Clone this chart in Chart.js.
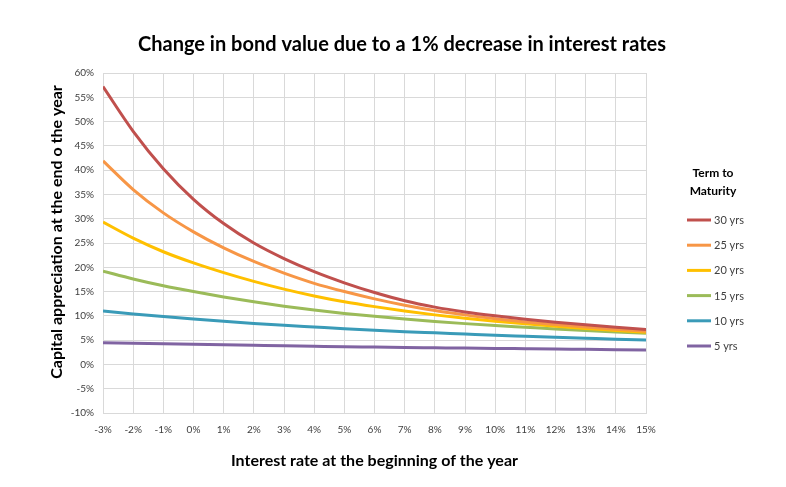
<!DOCTYPE html>
<html>
<head>
<meta charset="utf-8">
<script src="https://cdn.jsdelivr.net/npm/chart.js@4.4.1/dist/chart.umd.min.js"></script>
<style>
  body { margin: 0; background: #fff; }
  #wrap { width: 786px; height: 487px; }
</style>
</head>
<body>
<div id="wrap"><canvas id="bondChart" width="786" height="487"></canvas></div>
<script>
// interest rate at the beginning of the year (%)
const rates = [-3, -2, -1, 0, 1, 2, 3, 4, 5, 6, 7, 8, 9, 10, 11, 12, 13, 14, 15];

// capital appreciation (%) per term to maturity
const yrs30 = [57.2, 48.0, 40.3, 34.0, 29.0, 25.0, 21.8, 19.1, 16.8, 14.8, 13.1, 11.8, 10.8, 10.0, 9.3, 8.7, 8.15, 7.65, 7.2];
const yrs25 = [41.9, 36.0, 31.2, 27.3, 24.0, 21.2, 18.8, 16.7, 15.0, 13.5, 12.2, 11.1, 10.2, 9.4, 8.75, 8.2, 7.7, 7.25, 6.85];
const yrs20 = [29.3, 26.0, 23.2, 20.9, 18.9, 17.1, 15.5, 14.1, 12.9, 11.9, 11.0, 10.2, 9.5, 8.9, 8.35, 7.85, 7.4, 7.0, 6.6];
const yrs15 = [19.2, 17.6, 16.2, 15.0, 13.9, 12.9, 12.0, 11.2, 10.5, 9.9, 9.35, 8.85, 8.4, 8.0, 7.65, 7.3, 7.0, 6.7, 6.4];
const yrs10 = [11.0, 10.4, 9.85, 9.35, 8.9, 8.45, 8.05, 7.7, 7.35, 7.05, 6.75, 6.5, 6.25, 6.0, 5.8, 5.6, 5.4, 5.2, 5.05];
const yrs5  = [4.45, 4.35, 4.25, 4.15, 4.05, 3.95, 3.85, 3.75, 3.65, 3.58, 3.5, 3.43, 3.36, 3.3, 3.23, 3.16, 3.1, 3.04, 2.98];

const seriesLabels = ['30 yrs', '25 yrs', '20 yrs', '15 yrs', '10 yrs', '5 yrs'];
const seriesValues = [yrs30, yrs25, yrs20, yrs15, yrs10, yrs5];
const seriesColors = ['#C0504D', '#F79646', '#FFC000', '#9BBB59', '#3A9BB8', '#8064A2'];

const FONT = 'Lato, "Open Sans", sans-serif';

const datasets = seriesLabels.map((label, i) => ({
  label: label,
  data: rates.map((r, j) => ({ x: r, y: seriesValues[i][j] })),
  borderColor: seriesColors[i],
  backgroundColor: seriesColors[i],
  borderWidth: 3,
  pointRadius: 0,
  cubicInterpolationMode: 'monotone',
  fill: false
}));

// chart title, y title and "Term to Maturity" legend drawn by hand so they sit where Excel put them
const sidePlugin = {
  id: 'sideLegend',
  afterDraw(chart) {
    const ctx = chart.ctx;
    ctx.save();
    ctx.fillStyle = '#000';
    ctx.textAlign = 'center';
    ctx.textBaseline = 'middle';
    ctx.font = 'bold 20px ' + FONT;
    ctx.fillText('Change in bond value due to a 1% decrease in interest rates', 402, 45);

    // y axis title
    ctx.save();
    ctx.translate(57, 232);
    ctx.rotate(-Math.PI / 2);
    ctx.font = 'bold 16px ' + FONT;
    ctx.fillText('Capital appreciation at the end o the year', 0, 0);
    ctx.restore();

    ctx.font = 'bold 12px ' + FONT;
    ctx.fillText('Term to', 713, 173);
    ctx.fillText('Maturity', 713, 191);

    ctx.textAlign = 'left';
    ctx.font = '11px ' + FONT;
    chart.data.datasets.forEach((ds, i) => {
      const y = 220 + i * 25.2;
      ctx.strokeStyle = ds.borderColor;
      ctx.lineWidth = 3;
      ctx.beginPath();
      ctx.moveTo(687, y);
      ctx.lineTo(711, y);
      ctx.stroke();
      ctx.fillStyle = '#404040';
      ctx.fillText(ds.label, 714, y + 0.5);
    });
    ctx.restore();
  }
};

const ctx = document.getElementById('bondChart').getContext('2d');
const chart = new Chart(ctx, {
  type: 'line',
  data: { datasets: datasets },
  plugins: [sidePlugin],
  options: {
    responsive: false,
    animation: false,
    layout: { padding: { top: 73, right: 140, left: 0, bottom: 0 } },
    plugins: {
      legend: { display: false },
      title: { display: false },
      tooltip: { enabled: false }
    },
    scales: {
      x: {
        type: 'linear',
        min: -3,
        max: 15,
        afterFit: scale => { scale.height = 74; },
        ticks: {
          stepSize: 1,
          autoSkip: false,
          maxRotation: 0,
          padding: 11,
          color: '#404040',
          font: { family: FONT, size: 10 },
          callback: v => v + '%'
        },
        grid: { color: '#d9d9d9', drawTicks: false },
        border: { color: '#d9d9d9' },
        title: {
          display: true,
          text: 'Interest rate at the beginning of the year',
          color: '#000',
          font: { family: FONT, size: 16, weight: 'bold' },
          padding: { top: 0, bottom: 17 }
        }
      },
      y: {
        min: -10,
        max: 60,
        afterFit: scale => { scale.width = 103; },
        ticks: {
          stepSize: 5,
          padding: 9,
          color: '#404040',
          font: { family: FONT, size: 10 },
          callback: v => v + '%'
        },
        grid: { color: '#d9d9d9', drawTicks: false },
        border: { color: '#d9d9d9' }
      }
    }
  }
});
</script>
</body>
</html>
